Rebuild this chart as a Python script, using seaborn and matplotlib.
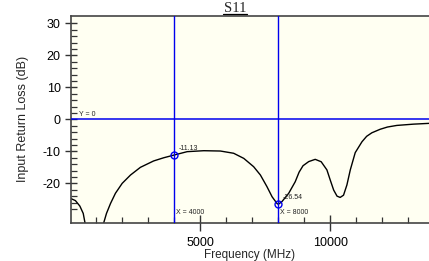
import numpy as np
import pandas as pd
import matplotlib
matplotlib.use("Agg")
import matplotlib.pyplot as plt
from matplotlib.lines import Line2D
import seaborn as sns

# ---- data ----
freq_mhz = [0, 190, 360, 490, 550, 700, 900, 1100, 1280, 1385, 1540, 1730,
            1990, 2310, 2690, 3200, 3590, 4000, 4490, 5130, 5770, 6280, 6670,
            7050, 7310, 7560, 7760, 7950, 8000, 8140, 8400, 8650, 8800, 8950,
            9170, 9420, 9650, 9870, 10000, 10130, 10260, 10380, 10510, 10640,
            10770, 10960, 11220, 11400, 11600, 11920, 12200, 12560, 13200, 13810]
s11_db = [-24.7, -25.4, -27.1, -29.4, -32.0, -38.0, -45.0, -37.0, -32.3, -29.4,
          -26.3, -23.1, -20.0, -17.4, -15.0, -13.0, -12.0, -11.13, -10.1, -9.8,
          -9.9, -10.6, -12.2, -14.8, -17.4, -21.0, -24.2, -26.3, -26.54, -25.7,
          -23.1, -19.5, -16.5, -14.5, -13.2, -12.5, -13.25, -15.8, -19.0,
          -22.1, -24.0, -24.4, -23.7, -20.5, -15.8, -10.4, -7.0, -5.3, -4.2,
          -3.1, -2.4, -1.9, -1.5, -1.25]
marker_x = [4000, 8000]
marker_y = [-11.13, -26.54]
marker_labels = ["-11.13", "-26.54"]
x_marker_labels = ["X = 4000", "X = 8000"]
y_marker = 0
y_ticks = [-20, -10, 0, 10, 20, 30]
x_ticks = [5000, 10000]

df = pd.DataFrame({"Frequency (MHz)": freq_mhz, "S11": s11_db})

sns.set_style("ticks")
plt.rcParams["font.family"] = ["Liberation Sans", "DejaVu Sans"]

W, H = 429, 261
fig = plt.figure(figsize=(W / 100, H / 100), dpi=100)
left_px, right_px, top_px, bottom_px = 70.5, 429, 16, 222.7
ax = fig.add_axes([left_px / W, (H - bottom_px) / H,
                   (right_px - left_px) / W, (bottom_px - top_px) / H])
ax.set_facecolor("#fffff2")

sns.lineplot(data=df, x="Frequency (MHz)", y="S11", ax=ax, color="black",
             linewidth=1.0, sort=False)

blue = "#0000ee"
ax.axhline(y_marker, color=blue, linewidth=1.1, zorder=3)
for mx, my, ml, xl in zip(marker_x, marker_y, marker_labels, x_marker_labels):
    ax.axvline(mx, color=blue, linewidth=1.0, zorder=3)
    ax.plot([mx], [my], marker="o", markersize=5, markerfacecolor="none",
            markeredgecolor=blue, markeredgewidth=1.0, zorder=4)
    ax.annotate(ml, (mx, my), xytext=(3, 2), textcoords="offset points",
                fontsize=5, color="#222222", ha="left", va="bottom")
    ax.annotate(xl, (mx, -32.3), xytext=(1, 5), textcoords="offset points",
                fontsize=5, color="#222222", ha="left", va="bottom")
ax.annotate("Y = 0", (0, y_marker), xytext=(6, 1), textcoords="offset points",
            fontsize=5, color="#222222", ha="left", va="bottom")

ax.set_xlim(0, 13800)
ax.set_ylim(-32.3, 32.3)
ax.set_xticks(x_ticks)
ax.set_xticklabels([str(v) for v in x_ticks])
ax.set_xticks([1000, 2000, 3000, 4000, 6000, 7000, 8000, 9000, 11000, 12000, 13000], minor=True)
ax.set_yticks(y_ticks)
ax.set_yticklabels([str(v) for v in y_ticks])
ax.set_yticks([v for v in range(-28, 31, 2) if v % 10 != 0], minor=True)

ax.tick_params(axis="both", which="major", labelsize=9, colors="#333333",
               labelcolor="black", width=1.0)
ax.tick_params(axis="y", which="major", direction="inout", length=9, pad=2.5)
ax.tick_params(axis="x", which="major", direction="inout", length=11, pad=5)
ax.tick_params(axis="both", which="minor", direction="in", length=4.2,
               width=0.9, colors="#333333")

for s in ["left", "bottom", "top"]:
    ax.spines[s].set_color("#444444")
    ax.spines[s].set_linewidth(1.2)
ax.spines["right"].set_visible(False)

ax.set_xlabel("Frequency (MHz)", fontsize=8.5, labelpad=0)
ax.set_ylabel("Input Return Loss (dB)", fontsize=9, labelpad=10)

fig.text(235 / W, 1 - 12 / H, "S11", fontsize=10.5,
         family=["Liberation Serif", "DejaVu Serif"], ha="center", va="baseline")
fig.add_artist(Line2D([223 / W, 247 / W], [1 - 13.6 / H, 1 - 13.6 / H],
                      color="black", linewidth=0.9))

fig.savefig("out.png", dpi=100)
